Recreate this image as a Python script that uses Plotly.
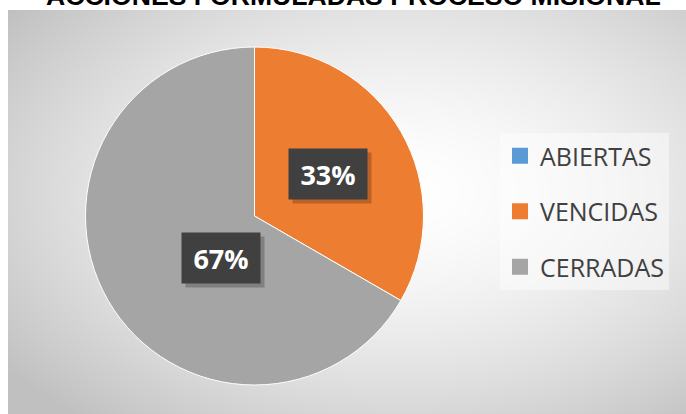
import base64, zlib, struct
import numpy as np
import plotly.graph_objects as go

# ---- data ----
categories = ["ABIERTAS", "VENCIDAS", "CERRADAS"]
values = [0, 1, 2]
colors = ["#5B9BD5", "#ED7D31", "#A5A5A5"]
title_text = "ACCIONES FORMULADAS PROCESO MISIONAL"

W, H = 686, 414

# ---- radial gradient background as PNG ----
def make_png(arr):
    h, w = arr.shape[:2]
    raw = b"".join(b"\x00" + arr[y].tobytes() for y in range(h))
    def chunk(t, d):
        c = struct.pack(">I", len(d)) + t + d
        return c + struct.pack(">I", zlib.crc32(t + d) & 0xffffffff)
    png = b"\x89PNG\r\n\x1a\n"
    png += chunk(b"IHDR", struct.pack(">IIBBBBB", w, h, 8, 2, 0, 0, 0))
    png += chunk(b"IDAT", zlib.compress(raw, 9))
    png += chunk(b"IEND", b"")
    return "data:image/png;base64," + base64.b64encode(png).decode()

bw, bh = 678, 404
yy, xx = np.mgrid[0:bh, 0:bw].astype(float)
cx, cy = bw * 0.58, bh * 0.45
d = np.sqrt(((xx - cx) / (bw * 0.62)) ** 2 + ((yy - cy) / (bh * 0.62)) ** 2)
d = np.clip(d, 0, 1.2)
g = 255 - 48 * d ** 1.6
g = np.clip(g, 192, 255).astype(np.uint8)
img = np.stack([g, g, g], axis=-1)
bg_src = make_png(img)

# ---- pie geometry (pixels) ----
pcx, pcy, pr = 254.5, 216, 169
dom_x = [(pcx - pr) / W, (pcx + pr) / W]
dom_y = [1 - (pcy + pr) / H, 1 - (pcy - pr) / H]

fig = go.Figure()
fig.add_trace(go.Pie(
    labels=categories, values=values, sort=False, direction="clockwise",
    rotation=0, textinfo="none", hoverinfo="label+percent",
    marker=dict(colors=colors, line=dict(color="white", width=1)),
    domain=dict(x=dom_x, y=dom_y), showlegend=False,
))

# legend entries
for i, (c, col) in enumerate(zip(categories, colors)):
    fig.add_trace(go.Scatter(
        x=[None], y=[None], mode="markers", name=c, legendgroup=c,
        marker=dict(symbol="square", size=17, color=col), showlegend=True,
    ))

# data labels in dark boxes
total = sum(values)
cum = 0
annotations = []
for c, v in zip(categories, values):
    if v > 0:
        mid = (cum + v / 2) / total * 2 * np.pi
        px = pcx + 0.5 * pr * np.sin(mid)
        py = pcy - 0.5 * pr * np.cos(mid)
        pct = f"{round(100 * v / total)}%"
        ax, ay = px / W, 1 - py / H
        annotations.append(dict(x=ax, y=ay, xref="paper", yref="paper",
                                text="&nbsp;", showarrow=False, xshift=4, yshift=-4,
                                font=dict(size=27, family="Open Sans"),
                                bgcolor="rgba(0,0,0,0.22)", borderpad=7, width=64, height=36))
        annotations.append(dict(x=ax, y=ay, xref="paper", yref="paper",
                                text=f"<b>{pct}</b>", showarrow=False,
                                font=dict(size=27, color="white", family="Open Sans"),
                                bgcolor="#404040", borderpad=7, width=64, height=36))
    cum += v

annotations.append(dict(x=353 / W, y=1 - 7 / H, xref="paper", yref="paper",
                        xanchor="center", yanchor="bottom", yshift=-6,
                        text=f"<b>{title_text}</b>", showarrow=False,
                        font=dict(size=26.6, color="black", family="Liberation Sans, Arial")))

fig.update_layout(
    width=W, height=H, margin=dict(l=0, r=0, t=0, b=0),
    paper_bgcolor="white", plot_bgcolor="rgba(0,0,0,0)",
    xaxis=dict(visible=False), yaxis=dict(visible=False),
    images=[dict(source=bg_src, xref="paper", yref="paper", x=8 / W, y=1 - 10 / H,
                 sizex=bw / W, sizey=bh / H, sizing="stretch", layer="below",
                 xanchor="left", yanchor="top")],
    legend=dict(x=500 / W, y=1 - 133 / H, xanchor="left", yanchor="top",
                bgcolor="rgba(255,255,255,0.45)", tracegroupgap=20,
                font=dict(size=25, color="#404040", family="Open Sans"),
                itemclick=False, entrywidth=162),
    annotations=annotations,
    showlegend=True,
)

fig.write_html("out.html", config={"displayModeBar": False},
               post_script="document.body.style.margin='0px';")
